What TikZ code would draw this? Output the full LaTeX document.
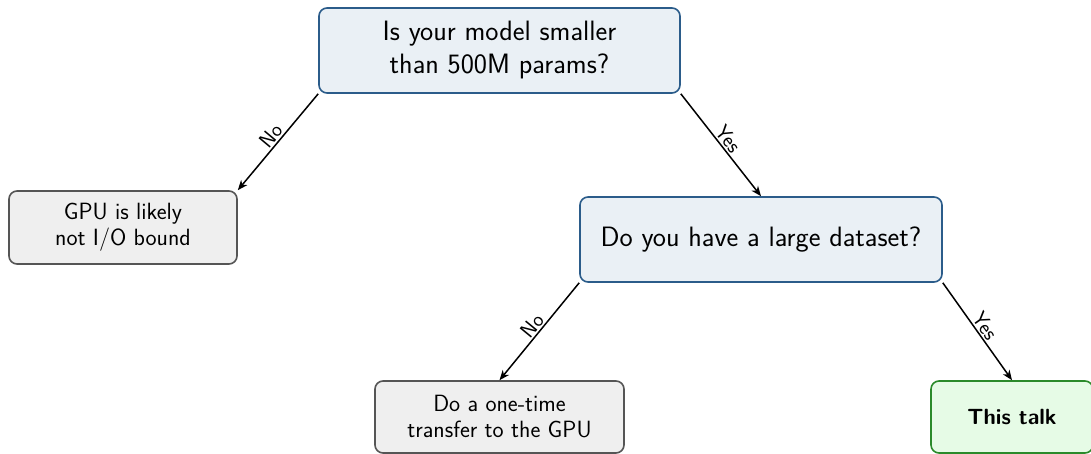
\documentclass[tikz,border=0pt]{standalone}
\usetikzlibrary{arrows.meta}
\definecolor{qfill}{HTML}{EAF0F5}
\definecolor{qdraw}{HTML}{2B5C8A}
\definecolor{gfill}{HTML}{EFEFEF}
\definecolor{gdraw}{HTML}{555555}
\definecolor{tfill}{HTML}{E6FBE6}
\definecolor{tdraw}{HTML}{2A8A2A}
\tikzset{
  box/.style={rounded corners=8pt, line width=1.6pt, align=center, inner sep=0pt, font=\sffamily},
  qbox/.style={box, fill=qfill, draw=qdraw, font=\sffamily\fontsize{28}{33}\selectfont},
  gbox/.style={box, fill=gfill, draw=gdraw, font=\sffamily\fontsize{23.5}{26}\selectfont},
  tbox/.style={box, fill=tfill, draw=tdraw, font=\sffamily\bfseries\fontsize{22}{26}\selectfont},
  conn/.style={line width=1.5pt, -{Stealth[length=10pt,width=8pt,inset=3pt]}},
  lbl/.style={sloped, above, font=\sffamily\fontsize{21}{24}\selectfont, inner sep=1.5pt}
}
\begin{document}
\begin{tikzpicture}[x=1pt,y=-1pt]
\useasboundingbox (0,0) rectangle (1091,454);
\node[qbox, minimum width=361pt, minimum height=85pt] (q1) at (499.5,50.5) {Is your model smaller\\than 500M params?};
\node[gbox, minimum width=228pt, minimum height=73pt] (a1) at (123,227.5) {GPU is likely\\not I/O bound};
\node[qbox, minimum width=362pt, minimum height=85pt] (q2) at (761,239.5) {Do you have a large dataset?};
\node[gbox, minimum width=249pt, minimum height=72pt] (a2) at (499.5,417) {Do a one-time\\transfer to the GPU};
\node[tbox, minimum width=162pt, minimum height=72pt] (a3) at (1012,417) {This talk};
\draw[conn] (q1.south west) -- node[lbl] {No} (a1.north east);
\draw[conn] (q1.south east) -- node[lbl] {Yes} (q2.north);
\draw[conn] (q2.south west) -- node[lbl] {No} (a2.north);
\draw[conn] (q2.south east) -- node[lbl] {Yes} (a3.north);
\end{tikzpicture}
\end{document}
